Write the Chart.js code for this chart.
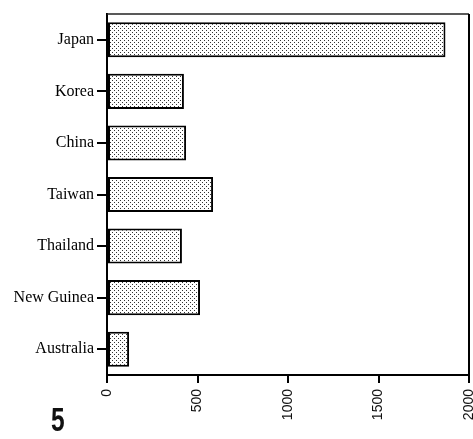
<!DOCTYPE html>
<html>
<head>
<meta charset="utf-8">
<script src="https://cdn.jsdelivr.net/npm/chart.js@4/dist/chart.umd.min.js"></script>
<style>
  html, body { margin: 0; padding: 0; background: #fff; }
  #wrap { position: relative; width: 473px; height: 439px; }
  #fig { position: absolute; left: 51px; top: 402px; font-family: "Liberation Sans", Arial, sans-serif; font-weight: bold; font-size: 34px; line-height: 34px; color: #111; transform: scaleX(0.72); transform-origin: 0 0; }
</style>
</head>
<body>
<div id="wrap">
  <canvas id="c" width="473" height="439"></canvas>
  <div id="fig">5</div>
</div>
<script>
const regions = ["Japan", "Korea", "China", "Taiwan", "Thailand", "New Guinea", "Australia"];
const counts = [1870, 425, 437, 586, 414, 514, 122];
const xTicks = [0, 500, 1000, 1500, 2000];

// stippled fill for the bars
function dotPattern() {
  const p = document.createElement('canvas');
  p.width = 4; p.height = 4;
  const g = p.getContext('2d');
  g.fillStyle = '#fff';
  g.fillRect(0, 0, 4, 4);
  g.fillStyle = '#333';
  g.fillRect(0, 0, 1, 1);
  g.fillRect(2, 2, 1, 1);
  return g.createPattern(p, 'repeat');
}

// top and right frame lines of the plot area
const frame = {
  id: 'frame',
  afterDraw(chart) {
    const { ctx, chartArea: a } = chart;
    ctx.save();
    ctx.strokeStyle = '#222';
    ctx.lineWidth = 1.5;
    ctx.beginPath();
    ctx.moveTo(a.left, a.top);
    ctx.lineTo(a.right, a.top);
    ctx.stroke();
    ctx.lineWidth = 2;
    ctx.strokeStyle = '#000';
    ctx.beginPath();
    ctx.moveTo(a.right, a.top);
    ctx.lineTo(a.right, a.bottom);
    ctx.stroke();
    ctx.restore();
  }
};

new Chart(document.getElementById('c'), {
  type: 'bar',
  data: {
    labels: regions,
    datasets: [{
      data: counts,
      backgroundColor: dotPattern(),
      borderColor: '#000',
      borderWidth: 2,
      borderSkipped: false,
      categoryPercentage: 0.68,
      barPercentage: 1
    }]
  },
  options: {
    indexAxis: 'y',
    responsive: false,
    animation: false,
    layout: { padding: { top: 14, right: 4, left: 0, bottom: 0 } },
    plugins: { legend: { display: false }, tooltip: { enabled: false } },
    scales: {
      x: {
        min: 0, max: 2000,
        afterBuildTicks(scale) { scale.ticks = xTicks.map(v => ({ value: v })); },
        afterFit(scale) { scale.height = 64; scale.paddingLeft = 0; scale.paddingRight = 0; },
        grid: { display: true, drawOnChartArea: false, drawTicks: true, tickLength: 8, color: '#000', lineWidth: 2 },
        border: { display: true, color: '#000', width: 2 },
        ticks: {
          minRotation: 90, maxRotation: 90,
          padding: 6,
          color: '#111',
          callback: v => String(v),
          font: { family: '"Liberation Sans", Arial, sans-serif', size: 14 }
        }
      },
      y: {
        afterFit(scale) { scale.width = 107; },
        grid: { display: true, drawOnChartArea: false, drawTicks: true, tickLength: 10, color: '#000', lineWidth: 2, offset: false },
        border: { display: true, color: '#000', width: 2 },
        ticks: {
          padding: 3,
          color: '#000',
          font: { family: '"Liberation Serif", "Times New Roman", serif', size: 16 }
        }
      }
    }
  },
  plugins: [frame]
});
</script>
</body>
</html>
